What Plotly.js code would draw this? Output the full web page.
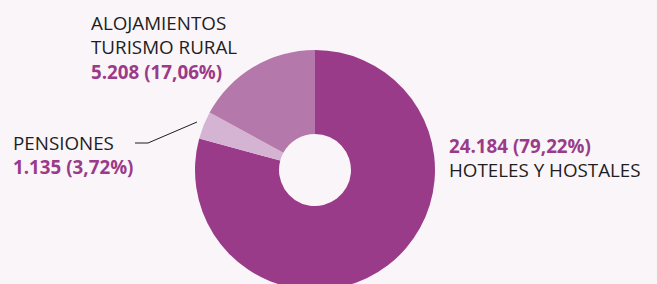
<!DOCTYPE html>
<html><head><meta charset="utf-8">
<script src="https://cdn.plot.ly/plotly-3.0.1.min.js"></script>
<style>html,body{margin:0;padding:0;overflow:hidden;background:#faf5f9;}#chart{width:657px;height:300px;}</style>
</head><body><div id="chart"></div>
<script>
const categories = ["HOTELES Y HOSTALES", "PENSIONES", "ALOJAMIENTOS<br>TURISMO RURAL"];
const values = [24184, 1135, 5208];
const valueLabels = ["24.184 (79,22%)", "1.135 (3,72%)", "5.208 (17,06%)"];
const colors = ["#9a3b8a", "#d5b3d3", "#b578ab"];

const W = 657, H = 300;
const px = x => x / W, py = y => 1 - y / H;
const cx = 315, cy = 170, R = 120;
const purple = "#9a3b8a", dark = "#1e1e1e";
const bold = (s) => "<b><span style='color:" + purple + "'>" + s + "</span></b>";

const trace = {
  type: "pie", values: values, labels: categories, sort: false, direction: "clockwise", rotation: 0,
  hole: 0.3, textinfo: "none", hoverinfo: "none", showlegend: false,
  marker: {colors: colors, line: {width: 0}},
  domain: {x: [px(cx - R), px(cx + R)], y: [py(cy + R), py(cy - R)]}
};

const font = {family: "Open Sans, sans-serif", size: 18.8, color: dark};
const annotations = [
  {x: px(89), y: py(47), xanchor: "left", yanchor: "middle", align: "left",
   text: categories[2] + "<br>" + bold(valueLabels[2])},
  {x: px(11), y: py(155), xanchor: "left", yanchor: "middle", align: "left",
   text: categories[1] + "<br>" + bold(valueLabels[1])},
  {x: px(447), y: py(158), xanchor: "left", yanchor: "middle", align: "left",
   text: bold(valueLabels[0]) + "<br>" + categories[0]}
].map(a => Object.assign({xref: "paper", yref: "paper", showarrow: false, font: font}, a));

const layout = {
  width: W, height: H, margin: {l: 0, r: 0, t: 0, b: 0},
  paper_bgcolor: "#faf5f9", plot_bgcolor: "#faf5f9",
  annotations: annotations,
  shapes: [
    {type: "path", xref: "paper", yref: "paper",
     path: "M" + px(135) + "," + py(143) + " L" + px(148) + "," + py(143) + " L" + px(197) + "," + py(122),
     line: {color: "#1e1e1e", width: 1}}
  ]
};
Plotly.newPlot("chart", [trace], layout, {staticPlot: true});
</script></body></html>
